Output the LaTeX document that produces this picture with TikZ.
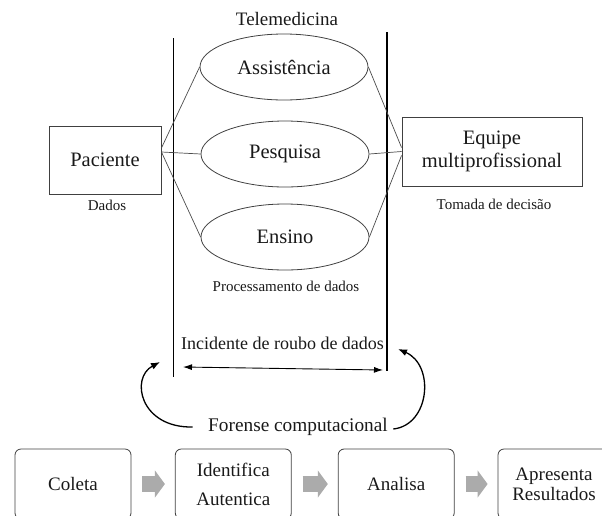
\documentclass[tikz,border=0pt]{standalone}
\usepackage{fontspec}
\setmainfont{Liberation Serif}[Ligatures=TeX]
\usetikzlibrary{shapes.geometric, arrows, arrows.meta}

\begin{document}
\begin{tikzpicture}[x=1pt, y=-1pt,
				grande/.style={font=\rmfamily\fontsize{20.5}{23}\selectfont},
				media/.style={font=\rmfamily\fontsize{19}{22}\selectfont},
				pequena/.style={font=\rmfamily\fontsize{15}{17}\selectfont}]
					\tikzstyle{every node}=[text=black!90]
					\tikzstyle{caixa}=[rectangle, draw=black!75, line width=0.9pt, text centered, grande]
					\tikzstyle{elipse}=[ellipse, draw=black!75, line width=0.8pt, minimum width=168, minimum height=66, inner sep=0pt, grande]
					\tikzstyle{etapa}=[rectangle, rounded corners=6pt, draw=black!75, line width=0.8pt, minimum width=116, minimum height=70, align=center, media]
					\tikzstyle{ligacao}=[draw=black!70, line width=0.7pt]
					\tikzstyle{barra}=[draw=black, line width=1.8pt]
					\tikzstyle{bloco}=[draw=black!33, line width=16.7pt, -{Triangle[length=10pt, width=26.7pt]}]
					\tikzstyle{volta}=[line width=1.3pt, -{Latex[length=9pt, width=7pt]}]
				\useasboundingbox (0,0) rectangle (602,515);
				\clip (0,0) rectangle (602,515);
					% telemedicina
					\node[media] (tele) at (287,19) {Telemedicina};
					\node[elipse] (assist) at (284,67) {Assistência};
					\node[elipse] (pesq) at (285,154) {Pesquisa};
					\node[elipse] (ensino) at (285,237) {Ensino};
					\node[pequena] (proc) at (286,286) {Processamento de dados};
					% paciente e equipe
					\node[caixa, minimum width=112, minimum height=68] (paciente) at (105,160) {Paciente};
					\node[pequena] (dados) at (107,205) {Dados};
					\node[caixa, minimum width=180, minimum height=69, align=center] (equipe) at (492,151.5) {Equipe\\multiprofissional};
					\node[pequena] (tomada) at (494,204) {Tomada de decisão};
					% barras
					\coordinate (esqA) at (173.5,38);
					\coordinate (esqB) at (173.5,377);
					\coordinate (dirA) at (387,32);
					\coordinate (dirB) at (387,371);
					\draw[barra] (esqA) -- (esqB);
					\draw[barra] (dirA) -- (dirB);
					% ligacoes
					\draw[ligacao] ([yshift=12]paciente.east) -- (assist.west);
					\draw[ligacao] ([yshift=8]paciente.east) -- (pesq.west);
					\draw[ligacao] ([yshift=8]paciente.east) -- (ensino.west);
					\draw[ligacao] (assist.east) -- ([yshift=4]equipe.west);
					\draw[ligacao] (pesq.east) -- (equipe.west);
					\draw[ligacao] (ensino.east) -- ([yshift=-4]equipe.west);
					% incidente
					\node[font=\rmfamily\fontsize{18}{20}\selectfont] (incid) at (282.5,343) {Incidente de roubo de dados};
					\coordinate (incE) at (183,367);
					\coordinate (incD) at (383,370);
					\draw[{Latex[length=9pt, width=6pt]}-{Latex[length=9pt, width=6pt]}, line width=0.9pt] (incE) -- (incD);
					\node[font=\rmfamily\fontsize{19.3}{22}\selectfont] (forense) at (298,427) {Forense computacional};
					\coordinate (voltaE) at (160,362);
					\coordinate (voltaD) at (398,349);
					\draw[volta] ([xshift=-12]forense.west) .. controls (140,428) and (130,378) .. (voltaE);
					\draw[volta] ([xshift=2,yshift=-2]forense.east) .. controls (430,425) and (435,365) .. (voltaD);
					% etapas
					\node[etapa] (coleta) at (73,484) {Coleta};
					\node[etapa] (ident) at (233.3,484) {Identifica\\[7pt]Autentica};
					\node[etapa] (analisa) at (396.2,484) {Analisa};
					\node[etapa, minimum width=112] (apres) at (554,484) {Apresenta\\[-2pt]Resultados};
					\draw[bloco] ([xshift=11]coleta.east) -- ([xshift=-10]ident.west);
					\draw[bloco] ([xshift=11]ident.east) -- ([xshift=-10]analisa.west);
					\draw[bloco] ([xshift=11]analisa.east) -- ([xshift=-10]apres.west);
				\end{tikzpicture}
\end{document}
